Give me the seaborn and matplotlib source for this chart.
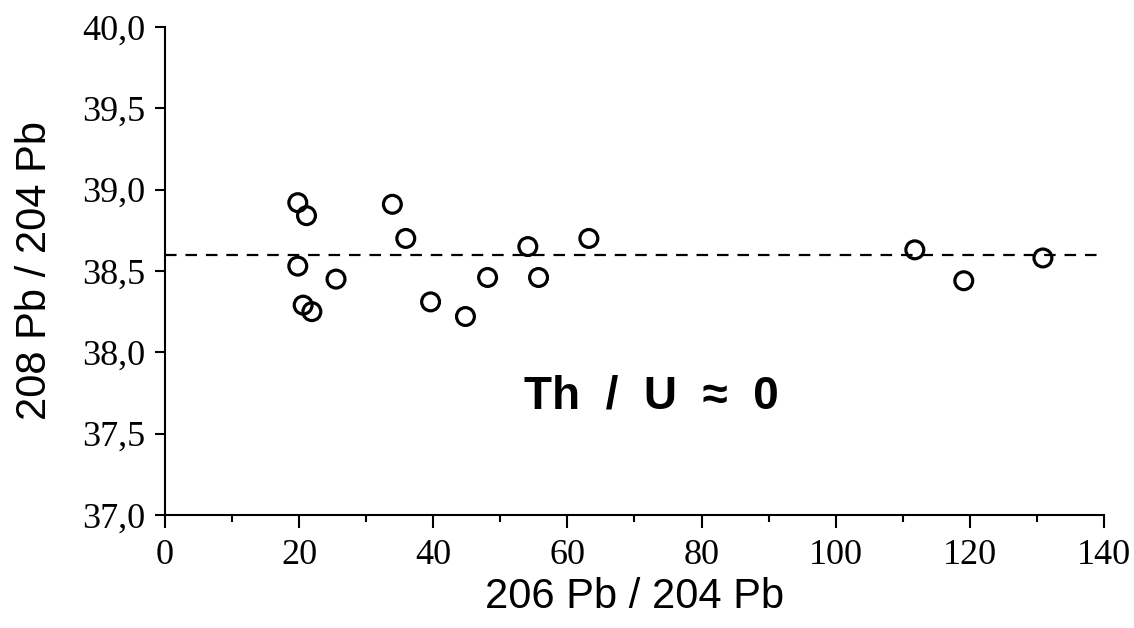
import matplotlib
matplotlib.use("Agg")
import matplotlib.pyplot as plt
import seaborn as sns
import pandas as pd

# data
pb206_204 = [19.8, 21.1, 19.8, 20.6, 21.9, 25.5, 33.9, 35.9, 39.6, 44.8,
             48.1, 54.1, 55.7, 63.2, 111.8, 119.1, 130.9]
pb208_204 = [38.92, 38.84, 38.53, 38.29, 38.25, 38.45, 38.91, 38.70, 38.31, 38.22,
             38.46, 38.65, 38.46, 38.70, 38.63, 38.44, 38.58]
ref_level = 38.6

x_ticks = [0, 20, 40, 60, 80, 100, 120, 140]
x_minor = [10, 30, 50, 70, 90, 110, 130]
y_ticks = [37.0, 37.5, 38.0, 38.5, 39.0, 39.5, 40.0]
y_labels = ["37,0", "37,5", "38,0", "38,5", "39,0", "39,5", "40,0"]

df = pd.DataFrame({"x": pb206_204, "y": pb208_204})

sns.set_style("ticks")
plt.rcParams["font.family"] = ["Liberation Sans", "DejaVu Sans"]
plt.rcParams["text.color"] = "black"
plt.rcParams["axes.labelcolor"] = "black"

fig = plt.figure(figsize=(11.34, 6.28), dpi=100)
ax = fig.add_axes([0.1455, 0.180, 0.8280, 0.777])

ax.axhline(ref_level, color="black", lw=1.6, dashes=(5.2, 4.0), zorder=1)
sns.scatterplot(data=df, x="x", y="y", ax=ax, marker="o", s=165,
                facecolors="none", edgecolors="black", linewidth=2.3, zorder=3)

ax.set_xlim(0, 140)
ax.set_ylim(37.0, 40.0)
ax.set_xticks(x_ticks)
ax.set_xticks(x_minor, minor=True)
ax.set_yticks(y_ticks)
ax.set_yticklabels(y_labels)

ax.tick_params(axis="both", which="both", labelsize=26,
               labelfontfamily="Liberation Serif", labelcolor="black", colors="black")
ax.tick_params(axis="x", which="major", length=9, width=1.5, pad=8)
ax.tick_params(axis="x", which="minor", length=5, width=1.5)
ax.tick_params(axis="y", which="major", length=7, width=1.5, pad=7)

for side in ["left", "bottom"]:
    ax.spines[side].set_linewidth(1.5)
    ax.spines[side].set_color("black")
sns.despine(ax=ax)

ax.set_xlabel("206 Pb / 204 Pb", fontsize=30, labelpad=4)
ax.set_ylabel("208 Pb / 204 Pb", fontsize=30, labelpad=20)

ax.text(72.5, 37.73, "Th  /  U  \u2248  0", fontsize=33, fontweight="bold",
        ha="center", va="center")

fig.savefig("out.png", dpi=100)
